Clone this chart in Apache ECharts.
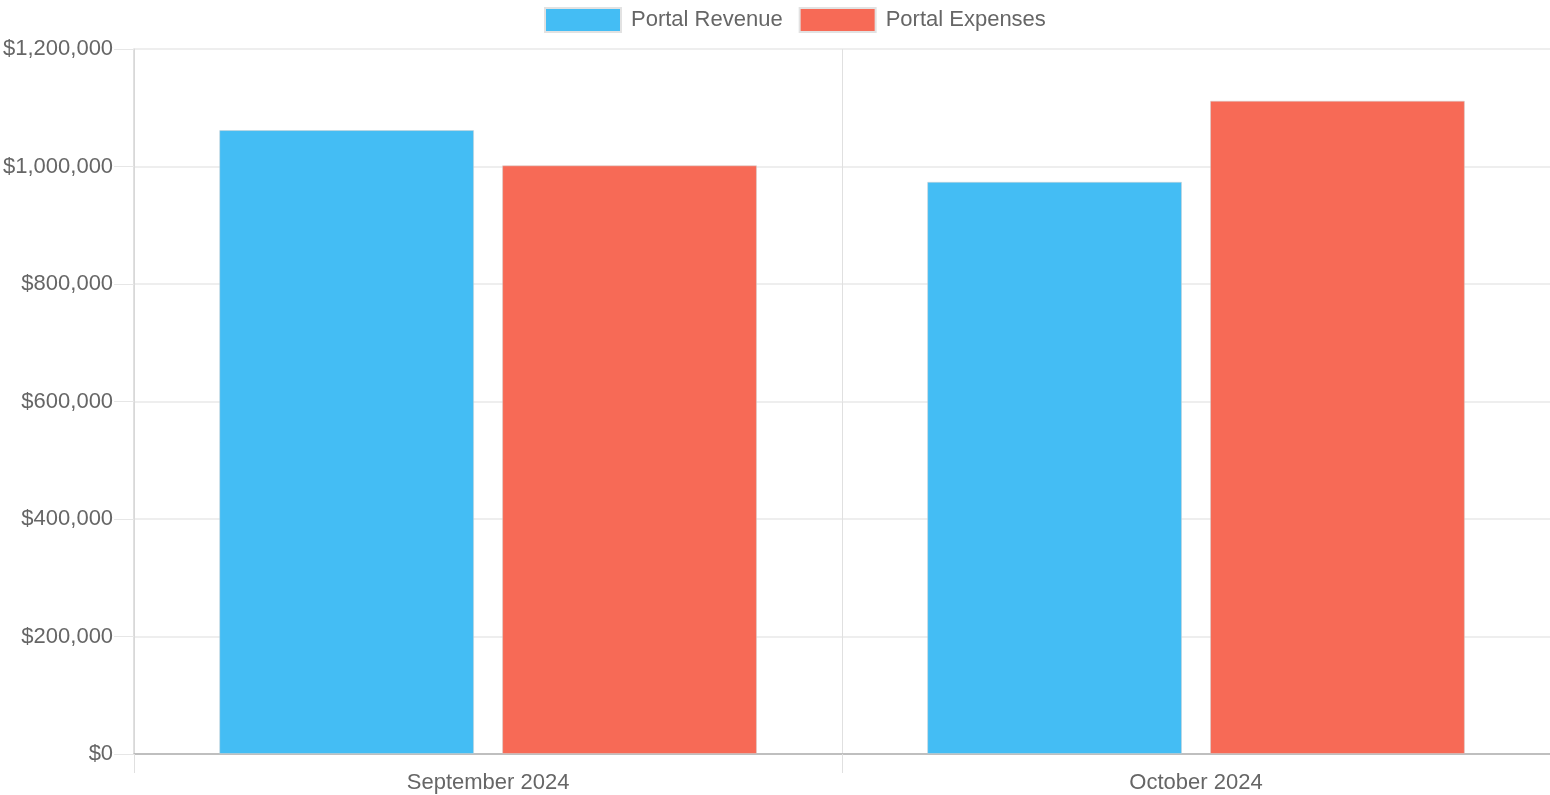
<!DOCTYPE html>
<html>
<head>
<meta charset="utf-8">
<script src="https://cdn.jsdelivr.net/npm/echarts@6/dist/echarts.min.js"></script>
<style>html,body{margin:0;padding:0;background:#fff}#c{width:1550px;height:795px}</style>
</head>
<body>
<div id="c"></div>
<script>
const categories = ['September 2024', 'October 2024'];
const revenue = [1062000, 974000];
const expenses = [1002000, 1112000];
const seriesNames = ['Portal Revenue', 'Portal Expenses'];
const yTicks = [0, 200000, 400000, 600000, 800000, 1000000, 1200000];

const FONT = 'Liberation Sans, Arial, Helvetica, sans-serif';
const chart = echarts.init(document.getElementById('c'));
chart.setOption({
  animation: false,
  textStyle: { fontFamily: FONT },
  legend: {
    left: 539, top: 2,
    itemWidth: 76, itemHeight: 24, itemGap: 16,
    textStyle: { fontSize: 22, color: '#666', fontFamily: FONT, padding: [0, 0, 0, 5] },
    icon: 'rect',
    itemStyle: { borderColor: '#e2e2e2', borderWidth: 2 },
    data: seriesNames
  },
  grid: { left: 134, right: 0, top: 49, bottom: 41, containLabel: false },
  xAxis: {
    type: 'category',
    data: categories,
    axisLine: { show: true, lineStyle: { color: '#b0b0b0', width: 1.5 } },
    axisTick: { show: true, length: 19, lineStyle: { color: '#e0e0e0' } },
    splitLine: { show: true, lineStyle: { color: '#e0e0e0', width: 1 } },
    axisLabel: { fontSize: 22, color: '#666', margin: 18, fontFamily: FONT }
  },
  yAxis: {
    type: 'value',
    min: yTicks[0], max: yTicks[yTicks.length - 1], interval: 200000,
    axisLine: { show: true, lineStyle: { color: '#d6d6d6', width: 1.5 } },
    axisTick: { show: true, length: 20, lineStyle: { color: '#e6e6e6' } },
    splitLine: { show: true, lineStyle: { color: '#e8e8e8', width: 1.5 } },
    axisLabel: {
      fontSize: 22, color: '#666', margin: 21, fontFamily: FONT,
      formatter: v => '$' + v.toLocaleString('en-US')
    }
  },
  series: [
    {
      name: seriesNames[0], type: 'bar', data: revenue,
      barWidth: '36%', barGap: '11%',
      itemStyle: { color: '#44bdf4', borderColor: 'rgba(210,210,210,0.5)', borderWidth: 1 }
    },
    {
      name: seriesNames[1], type: 'bar', data: expenses,
      barWidth: '36%', barGap: '11%',
      itemStyle: { color: '#f76a56', borderColor: 'rgba(210,210,210,0.5)', borderWidth: 1 }
    }
  ]
});
</script>
</body>
</html>
